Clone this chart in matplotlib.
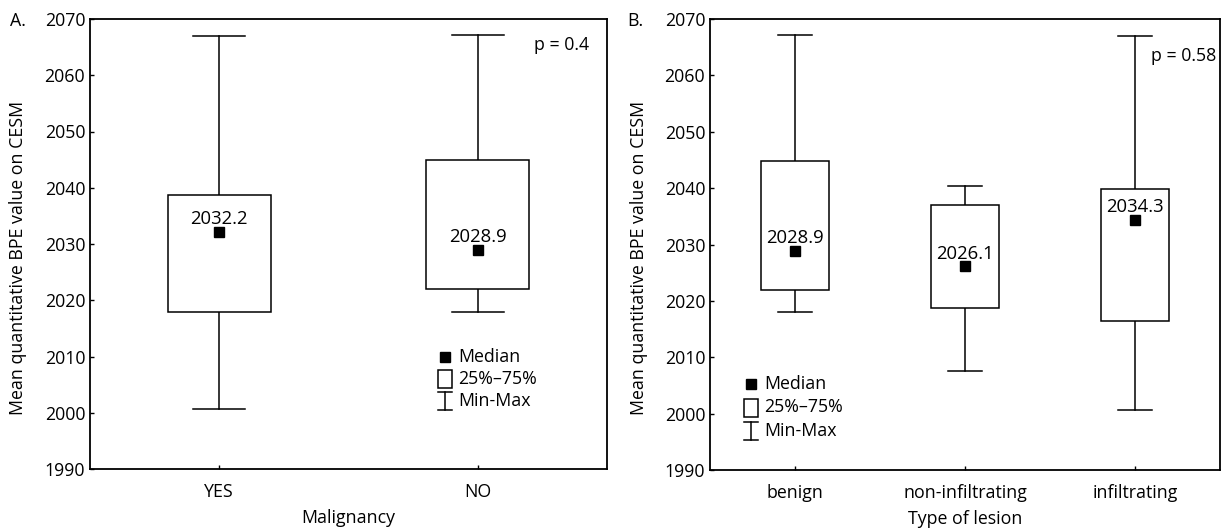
import matplotlib
matplotlib.use("Agg")
import matplotlib.pyplot as plt
from matplotlib.patches import Rectangle

plt.rcParams['font.family'] = ['Open Sans', 'DejaVu Sans']

# Panel A data
cats_a = ["YES", "NO"]
min_a = [2000.7, 2018.0]
q1_a = [2018.0, 2022.0]
med_a = [2032.2, 2028.9]
q3_a = [2038.8, 2044.9]
max_a = [2067.0, 2067.1]

# Panel B data
cats_b = ["benign", "non-infiltrating", "infiltrating"]
min_b = [2018.0, 2007.6, 2000.7]
q1_b = [2022.0, 2018.7, 2016.4]
med_b = [2028.9, 2026.1, 2034.3]
q3_b = [2044.9, 2037.0, 2039.8]
max_b = [2067.1, 2040.4, 2067.0]

yticks = [1990, 2000, 2010, 2020, 2030, 2040, 2050, 2060, 2070]
ylabel = "Mean quantitative BPE value on CESM"

W, H = 1223, 531
fig = plt.figure(figsize=(W / 100, H / 100), dpi=100)

FS = 12.8
LW = 1.1


def draw_panel(ax, cats, mins, q1s, meds, q3s, maxs):
    n = len(cats)
    bw = 0.4
    cw = 0.2
    for i in range(n):
        x = i + 1
        ax.plot([x, x], [mins[i], q1s[i]], color='black', lw=LW, zorder=2)
        ax.plot([x, x], [q3s[i], maxs[i]], color='black', lw=LW, zorder=2)
        ax.plot([x - cw / 2, x + cw / 2], [mins[i], mins[i]], color='black', lw=LW, zorder=2)
        ax.plot([x - cw / 2, x + cw / 2], [maxs[i], maxs[i]], color='black', lw=LW, zorder=2)
        ax.add_patch(Rectangle((x - bw / 2, q1s[i]), bw, q3s[i] - q1s[i],
                               facecolor='white', edgecolor='black', lw=LW, zorder=3))
        ax.plot([x], [meds[i]], marker='s', color='black', markersize=7, ls='none', zorder=4)
        ax.text(x, meds[i] + 2.3, f"{meds[i]:.1f}", ha='center', va='center',
                fontsize=FS + 0.5, zorder=5)
    ax.set_xlim(0.5, n + 0.5)
    ax.set_ylim(1990, 2070)
    ax.set_yticks(yticks)
    ax.set_xticks(range(1, n + 1))
    ax.set_xticklabels(cats)
    ax.tick_params(direction='in', length=3, width=1, labelsize=FS)
    ax.tick_params(axis='x', pad=10)
    for s in ax.spines.values():
        s.set_linewidth(1.3)
    ax.set_ylabel(ylabel, fontsize=FS)


def draw_legend(ax, xs, ys, dy):
    tr = ax.transAxes
    ax.plot([xs], [ys], marker='s', color='black', markersize=7, transform=tr,
            clip_on=False, zorder=6)
    ax.text(xs + 0.025, ys, "Median", transform=tr, va='center', ha='left', fontsize=FS)
    bw = 14 / ax.bbox.width
    bh = 18 / ax.bbox.height
    y2 = ys - dy
    ax.add_patch(Rectangle((xs - bw / 2, y2 - bh / 2), bw, bh, transform=tr,
                           facecolor='white', edgecolor='black', lw=LW, zorder=6))
    ax.text(xs + 0.025, y2, "25%\u201375%", transform=tr, va='center', ha='left', fontsize=FS)
    y3 = y2 - dy
    top = y3 + 9 / ax.bbox.height
    bot = y3 - 9 / ax.bbox.height
    ax.plot([xs, xs], [bot, top], color='black', lw=LW, transform=tr)
    ax.plot([xs - bw / 2, xs + bw / 2], [top, top], color='black', lw=LW, transform=tr)
    ax.plot([xs - bw / 2, xs + bw / 2], [bot, bot], color='black', lw=LW, transform=tr)
    ax.text(xs + 0.025, y3, "Min-Max", transform=tr, va='center', ha='left', fontsize=FS)


axA = fig.add_axes([90 / W, 1 - 469 / H, (607 - 90) / W, (469 - 19) / H])
axB = fig.add_axes([710 / W, 1 - 470 / H, (1220 - 710) / W, (470 - 19) / H])

draw_panel(axA, cats_a, min_a, q1_a, med_a, q3_a, max_a)
draw_panel(axB, cats_b, min_b, q1_b, med_b, q3_b, max_b)

axA.set_xlabel("Malignancy", fontsize=FS, labelpad=6)
axB.set_xlabel("Type of lesion", fontsize=FS, labelpad=6)
axA.yaxis.set_label_coords(-0.122, 0.47)
axB.yaxis.set_label_coords(-0.122, 0.47)

axA.text(0.965, 0.942, "p = 0.4", transform=axA.transAxes, ha='right', va='center', fontsize=FS)
axB.text(0.993, 0.918, "p = 0.58", transform=axB.transAxes, ha='right', va='center', fontsize=FS)

draw_legend(axA, (445 - 90) / 517, (469 - 357) / 450, 22 / 450)
draw_legend(axB, (751 - 710) / 510, (470 - 384) / 451, 23.5 / 451)

fig.text(10 / W, 1 - 21 / H, "A.", fontsize=FS, ha='left', va='center')
fig.text(627 / W, 1 - 21 / H, "B.", fontsize=FS, ha='left', va='center')

fig.savefig("out.png", dpi=100)
